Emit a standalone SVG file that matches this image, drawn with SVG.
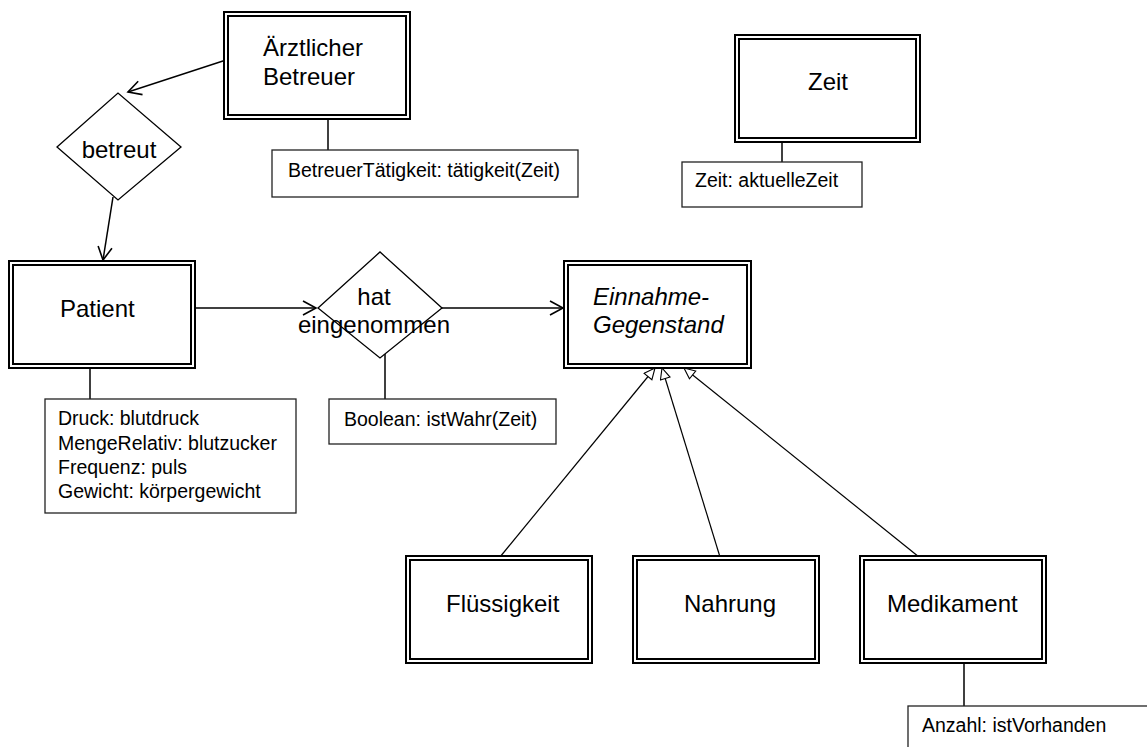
<svg xmlns="http://www.w3.org/2000/svg" width="1147" height="747" viewBox="0 0 1147 747">
<style>
  .outer { fill: #fff; stroke: #000; stroke-width: 2; }
  .inner { fill: none; stroke: #000; stroke-width: 2; }
  .attr { fill: #fff; stroke: #222; stroke-width: 1.3; }
  .dia { fill: #fff; stroke: #000; stroke-width: 1.3; }
  .big { font-family: "Liberation Sans", Arial, sans-serif; font-size: 24px; fill: #000; }
  .small { font-family: "Liberation Sans", Arial, sans-serif; font-size: 19.5px; fill: #000; }
  .it { font-style: italic; }
  .line { fill: none; stroke: #000; stroke-width: 1.5; }
  .gen { fill: none; stroke: #000; stroke-width: 1.2; }
</style>
<defs>
  <marker id="open" markerWidth="18" markerHeight="18" refX="15" refY="8" orient="auto" markerUnits="userSpaceOnUse">
    <path d="M2,1 L15,8 L2,15" fill="none" stroke="#000" stroke-width="1.6"/>
  </marker>
  <marker id="tri" markerWidth="14" markerHeight="14" refX="12" refY="6" orient="auto" markerUnits="userSpaceOnUse">
    <path d="M1,1 L12,6 L1,11 Z" fill="#fff" stroke="#000" stroke-width="1.1"/>
  </marker>
</defs>

<g id="connectors">
  <line class="line" x1="226" y1="60" x2="128" y2="92" marker-end="url(#open)"/>
  <line class="line" x1="113" y1="197" x2="103" y2="260" marker-end="url(#open)"/>
  <line class="line" x1="196" y1="308" x2="316" y2="308" marker-end="url(#open)"/>
  <line class="line" x1="442" y1="308" x2="563" y2="308" marker-end="url(#open)"/>
  <line class="gen" x1="500" y1="557" x2="655" y2="368" marker-end="url(#tri)"/>
  <line class="gen" x1="720" y1="557" x2="662" y2="368" marker-end="url(#tri)"/>
  <line class="gen" x1="919" y1="557" x2="684" y2="368" marker-end="url(#tri)"/>
  <line class="line" x1="328" y1="119" x2="328" y2="150"/>
  <line class="line" x1="782" y1="142" x2="782" y2="162"/>
  <line class="line" x1="90" y1="368" x2="90" y2="399"/>
  <line class="line" x1="385" y1="354" x2="385" y2="399"/>
  <line class="line" x1="964" y1="663" x2="964" y2="706"/>
</g>

<g id="aerztlicher-betreuer">
  <rect class="outer" x="224" y="12" width="186" height="107"/>
  <rect class="inner" x="228" y="16" width="178" height="99"/>
  <text class="big" x="263" y="56">Ärztlicher</text>
  <text class="big" x="263" y="85">Betreuer</text>
</g>
<g id="betreuer-attr">
  <rect class="attr" x="272" y="150" width="306" height="47"/>
  <text class="small" x="288" y="177">BetreuerTätigkeit: tätigkeit(Zeit)</text>
</g>

<g id="zeit">
  <rect class="outer" x="735" y="35" width="185" height="107"/>
  <rect class="inner" x="739" y="39" width="177" height="99"/>
  <text class="big" x="808" y="90">Zeit</text>
</g>
<g id="zeit-attr">
  <rect class="attr" x="682" y="162" width="180" height="45"/>
  <text class="small" x="695" y="187">Zeit: aktuelleZeit</text>
</g>

<g id="betreut">
  <polygon class="dia" points="57,147 118,93 181,147 118,200"/>
  <text class="big" x="119" y="158" text-anchor="middle">betreut</text>
</g>

<g id="patient">
  <rect class="outer" x="9" y="261" width="186" height="107"/>
  <rect class="inner" x="13" y="265" width="178" height="99"/>
  <text class="big" x="60" y="317">Patient</text>
</g>
<g id="patient-attr">
  <rect class="attr" x="45" y="399" width="251" height="114"/>
  <text class="small" x="58" y="425">Druck: blutdruck</text>
  <text class="small" x="58" y="450">MengeRelativ: blutzucker</text>
  <text class="small" x="58" y="474">Frequenz: puls</text>
  <text class="small" x="58" y="498">Gewicht: körpergewicht</text>
</g>

<g id="hat-eingenommen">
  <polygon class="dia" points="318,308 380,252 442,308 380,358"/>
  <text class="big" x="374" y="305" text-anchor="middle">hat</text>
  <text class="big" x="374" y="333" text-anchor="middle">eingenommen</text>
</g>
<g id="hat-attr">
  <rect class="attr" x="329" y="399" width="227" height="45"/>
  <text class="small" x="344" y="426">Boolean: istWahr(Zeit)</text>
</g>

<g id="einnahme-gegenstand">
  <rect class="outer" x="564" y="261" width="187" height="107"/>
  <rect class="inner" x="568" y="265" width="179" height="99"/>
  <text class="big it" x="593" y="305">Einnahme-</text>
  <text class="big it" x="593" y="333">Gegenstand</text>
</g>

<g id="fluessigkeit">
  <rect class="outer" x="406" y="556" width="186" height="107"/>
  <rect class="inner" x="410" y="560" width="178" height="99"/>
  <text class="big" x="446" y="612">Flüssigkeit</text>
</g>

<g id="nahrung">
  <rect class="outer" x="633" y="556" width="186" height="107"/>
  <rect class="inner" x="637" y="560" width="178" height="99"/>
  <text class="big" x="684" y="612">Nahrung</text>
</g>

<g id="medikament">
  <rect class="outer" x="860" y="556" width="186" height="107"/>
  <rect class="inner" x="864" y="560" width="178" height="99"/>
  <text class="big" x="887" y="612">Medikament</text>
</g>
<g id="medikament-attr">
  <rect class="attr" x="908" y="706" width="300" height="60"/>
  <text class="small" x="922" y="732">Anzahl: istVorhanden</text>
</g>
</svg>
